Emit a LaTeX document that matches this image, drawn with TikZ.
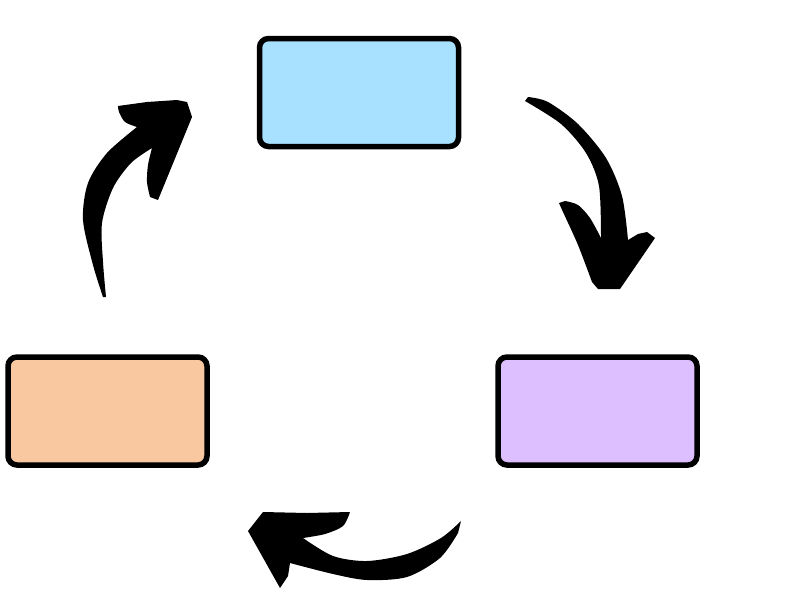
\documentclass[tikz,border=0pt]{standalone}
\usetikzlibrary{calc}
\definecolor{bleuboite}{RGB}{168,224,255}
\definecolor{violetboite}{RGB}{221,190,255}
\definecolor{orangeboite}{RGB}{249,200,160}
\tikzset{boite/.style={draw, line width=5.5pt, rounded corners=9pt,
    minimum width=199pt, minimum height=108pt, inner sep=0pt}}

\begin{document}
\begin{tikzpicture}[x=1pt, y=-1pt]
  \useasboundingbox (0,0) rectangle (800,600);
  % Boites du cycle
  \node[boite, fill=bleuboite] (haut) at (359,92.5) {};
  \node[boite, fill=violetboite] (droite) at (597.5,411) {};
  \node[boite, fill=orangeboite] (gauche) at (107.5,411) {};
  % Fleche haut -> droite
  \fill plot[smooth] coordinates {(528,97) (548,102) (578,124) (606,158) (622,196) (628,240)}
    -- (638,234) -- (647,232) -- (655,238)
    -- (620,289) -- (598,289) -- (592,282)
    -- plot[smooth] coordinates {(592,282) (578,245) (563,212) (559,203)}
    -- plot[smooth] coordinates {(565,201) (578,205) (590,218) (601,238)}
    -- plot[smooth] coordinates {(601,238) (599,186) (586,153) (561,124) (525,101)}
    -- cycle;
  % Fleche droite -> gauche
  \fill plot[smooth] coordinates {(461,521) (441,538) (407,554) (367,561) (333,556) (303,538)}
    -- plot[smooth] coordinates {(303,538) (325,534) (343,526) (350,512)}
    -- (307,513) -- (263,512) -- (248,531)
    -- (280,588) -- (288,576) -- (290,563)
    -- plot[smooth] coordinates {(290,563) (333,574) (367,580) (407,577) (440,558) (458,533)}
    -- cycle;
  % Fleche gauche -> haut
  \fill plot[smooth] coordinates {(103,297) (93,265) (83,220) (88,183) (107,153) (137,127)}
    -- plot[smooth] coordinates {(137,127) (125,122) (119,112) (118,106)}
    -- (147,102) -- (177,100) -- (187,102) -- (192,117)
    -- (158,200) -- (150,197)
    -- plot[smooth] coordinates {(150,197) (147,182) (148,165) (152,148)}
    -- plot[smooth] coordinates {(152,148) (131,163) (113,188) (102,223) (103,262) (106,297)}
    -- cycle;
\end{tikzpicture}
\end{document}
